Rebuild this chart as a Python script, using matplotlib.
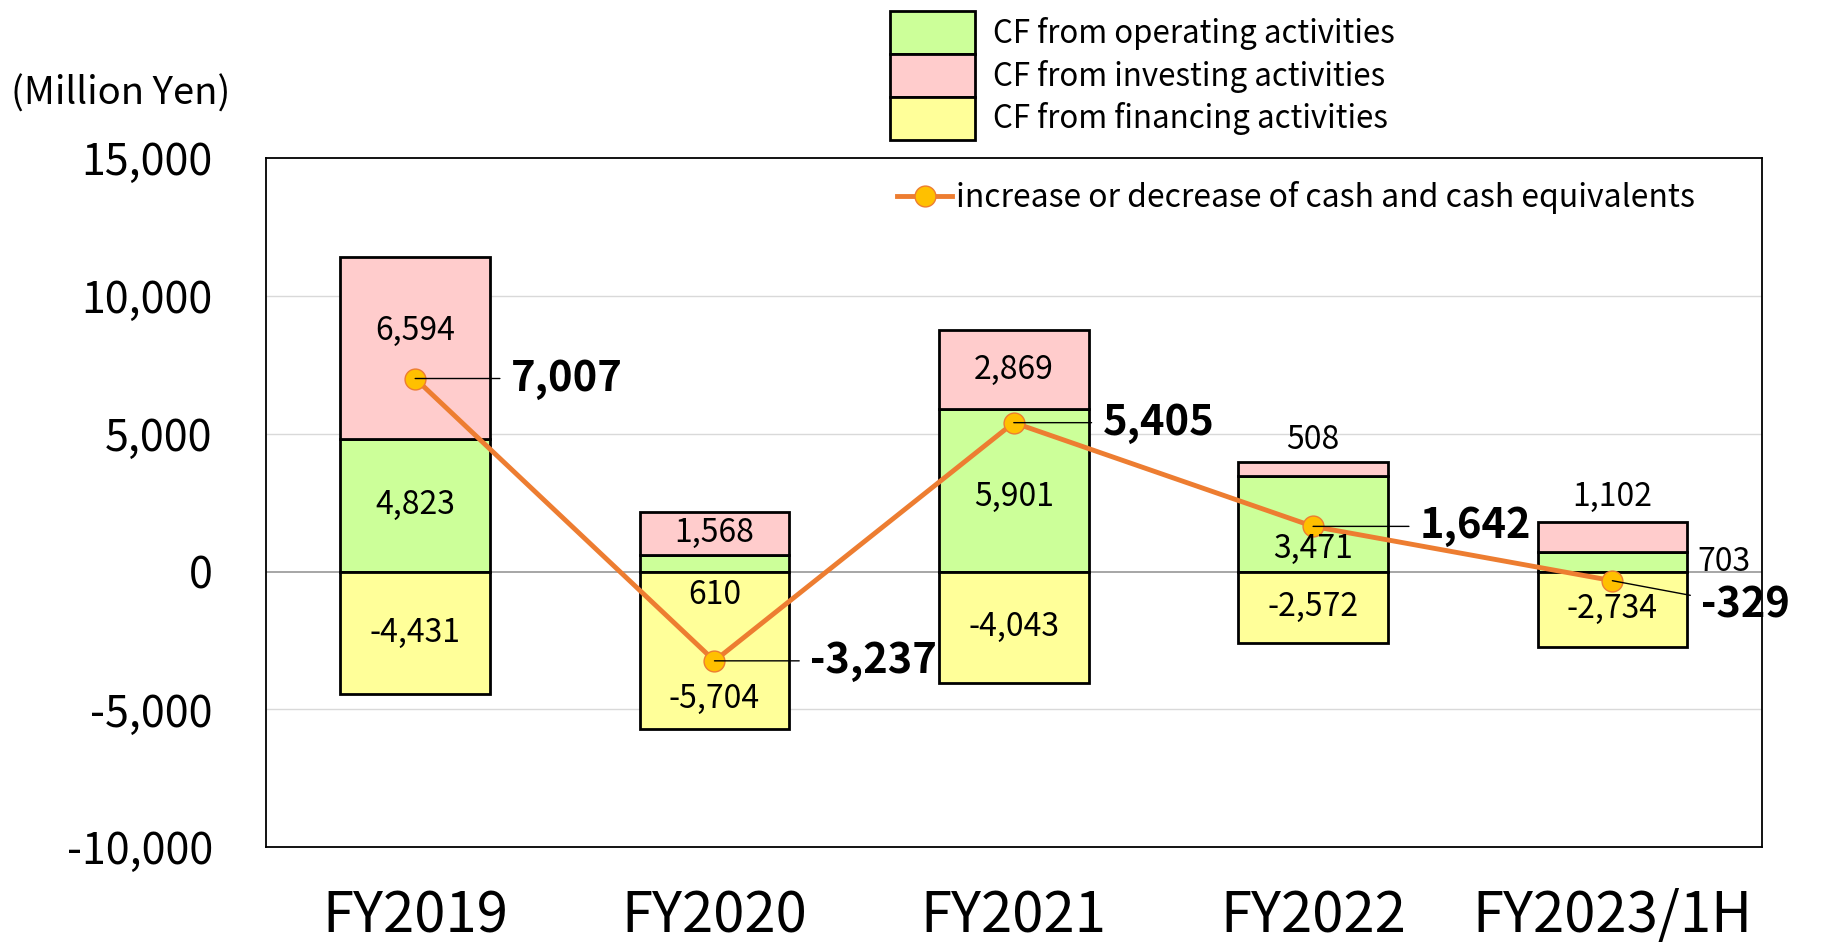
import matplotlib
matplotlib.use("Agg")
import matplotlib.pyplot as plt
import numpy as np
from matplotlib.ticker import FuncFormatter

plt.rcParams['font.family'] = ['Noto Sans CJK JP', 'DejaVu Sans']

categories = ["FY2019", "FY2020", "FY2021", "FY2022", "FY2023/1H"]
operating = [4823, 610, 5901, 3471, 703]
investing = [6594, 1568, 2869, 508, 1102]
financing = [-4431, -5704, -4043, -2572, -2734]
net_change = [7007, -3237, 5405, 1642, -329]

series_labels = ["CF from operating activities", "CF from investing activities",
                 "CF from financing activities"]
line_label = "increase or decrease of cash and cash equivalents"

# label offsets (points) - style only
inv_dy = [12, 0, 0, 21, 29]
op_dy = [0, -23, -5, -18, 0]
op_dx = [0, 0, 0, 0, 80]
fin_dy = [0, -35, 0, 0, 0]
net_dx = [69, 69, 64, 77, 64]
net_dy = [0, 0, 0, 0, -18]

c_op = "#CCFF99"
c_inv = "#FFCCCC"
c_fin = "#FFFF99"
c_line = "#ED7D31"
c_mark = "#FFC000"

fig = plt.figure(figsize=(18.25, 9.44), dpi=100)
ax = fig.add_axes([0.1455, 0.1025, 0.8200, 0.7299])

x = np.arange(len(categories))
w = 0.5
op = np.array(operating)
inv = np.array(investing)
fin = np.array(financing)

b_op = ax.bar(x, op, w, color=c_op, edgecolor="black", linewidth=2.0, label=series_labels[0], zorder=2)
b_inv = ax.bar(x, inv, w, bottom=op, color=c_inv, edgecolor="black", linewidth=2.0, label=series_labels[1], zorder=2)
b_fin = ax.bar(x, fin, w, color=c_fin, edgecolor="black", linewidth=2.0, label=series_labels[2], zorder=2)

ln, = ax.plot(x, net_change, color=c_line, linewidth=3.5, marker="o", markersize=15,
              markerfacecolor=c_mark, markeredgecolor=c_line, markeredgewidth=1.0,
              label=line_label, zorder=4)

fs_val = 23
for i in range(len(x)):
    ax.annotate(f"{inv[i]:,}", (x[i], op[i] + inv[i] / 2), xytext=(0, inv_dy[i]),
                textcoords="offset points", ha="center", va="center", fontsize=fs_val, zorder=5)
    ax.annotate(f"{op[i]:,}", (x[i], op[i] / 2), xytext=(op_dx[i], op_dy[i]),
                textcoords="offset points", ha="center", va="center", fontsize=fs_val, zorder=5)
    ax.annotate(f"{fin[i]:,}", (x[i], fin[i] / 2), xytext=(0, fin_dy[i]),
                textcoords="offset points", ha="center", va="center", fontsize=fs_val, zorder=5)
    ax.annotate(f"{net_change[i]:,}", (x[i], net_change[i]), xytext=(net_dx[i], net_dy[i]),
                textcoords="offset points", ha="left", va="center", fontsize=30,
                fontweight="bold", zorder=6,
                arrowprops=dict(arrowstyle="-", color="black", lw=1.0, shrinkA=6, shrinkB=0))

ax.set_xlim(-0.5, len(x) - 0.5)
ax.set_ylim(-10000, 15000)
ax.set_yticks(np.arange(-10000, 15001, 5000))
ax.yaxis.set_major_formatter(FuncFormatter(lambda v, p: f"{int(v):,}"))
ax.set_xticks(x)
ax.set_xticklabels(categories)
ax.tick_params(axis="y", length=0, pad=38, labelsize=31)
ax.tick_params(axis="x", length=0, pad=29, labelsize=40.5)

for v in [-5000, 5000, 10000]:
    ax.axhline(v, color="#D9D9D9", linewidth=1.0, zorder=0)
ax.axhline(0, color="#A6A6A6", linewidth=1.4, zorder=1)

for s in ax.spines.values():
    s.set_color("black")
    s.set_linewidth(1.3)

ax.legend(handles=[ln], loc="upper left", bbox_to_anchor=(0.4218, 0.967), frameon=False,
          fontsize=23, handlelength=1.74, handletextpad=0.13, borderpad=0, borderaxespad=0)

fig.legend(handles=[b_op, b_inv, b_fin], loc="upper left", bbox_to_anchor=(0.4877, 0.988),
           frameon=False, fontsize=22.5, handlelength=2.71, handleheight=1.73,
           labelspacing=0, handletextpad=0.58, borderpad=0, borderaxespad=0)

fig.text(0.006, 0.900, "(Million Yen)", fontsize=27.5, ha="left", va="center")

fig.savefig("out.png", dpi=100)
